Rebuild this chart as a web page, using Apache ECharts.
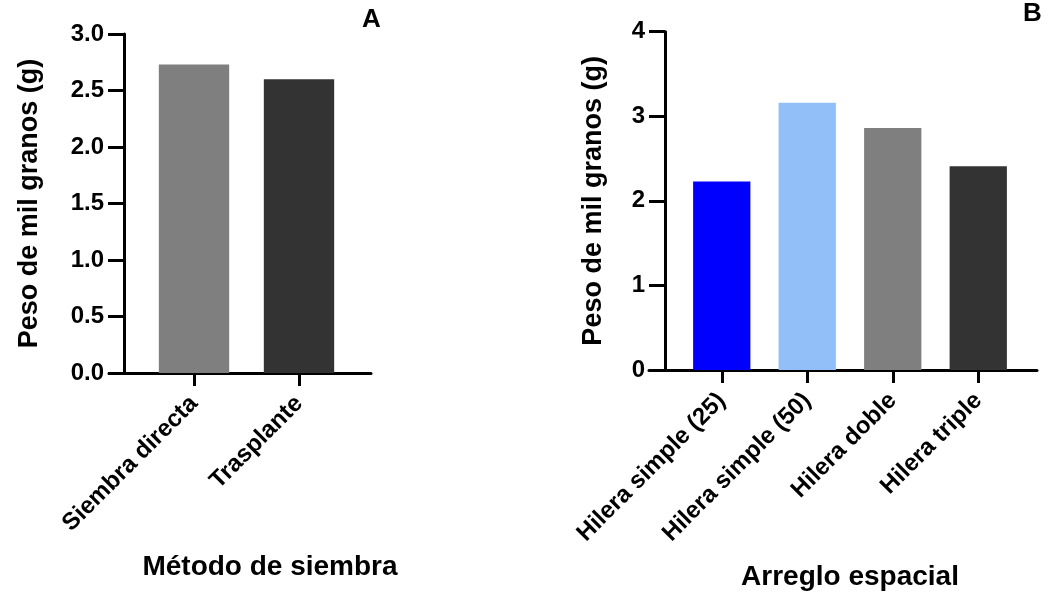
<!DOCTYPE html>
<html>
  <head>
    <meta charset="utf-8" />
    <title>Peso de mil granos</title>
    <style>
      html, body { margin: 0; padding: 0; background: #fff; }
      #chartBox { width: 1048px; height: 599px; }
    </style>
  </head>
  <body>
    <div id="chartBox"></div>
  </body>
  <script src="https://cdn.jsdelivr.net/npm/echarts@6/dist/echarts.min.js"></script>
  <script>
    // panel A
    var catsA = ['Siembra directa', 'Trasplante'];
    var valsA = [2.73, 2.60];
    var colorsA = ['#7f7f7f', '#333333'];
    // panel B
    var catsB = ['Hilera simple (25)', 'Hilera simple (50)', 'Hilera doble', 'Hilera triple'];
    var valsB = [2.23, 3.16, 2.86, 2.41];
    var colorsB = ['#0000ff', '#92bff8', '#7f7f7f', '#333333'];

    var _font = 'Liberation Sans, Arial, sans-serif';

    function barData(vals, colors) {
      return vals.map(function (v, i) {
        return { value: v, itemStyle: { color: colors[i] } };
      });
    }

    // plain black axis line spanning wider than the bars (Prism style)
    function lineAxes(gridIndex) {
      return {
        x: {
          type: 'value', gridIndex: gridIndex, min: 0, max: 1,
          axisLine: { show: true, onZero: false, lineStyle: { color: '#000', width: 3 } },
          axisTick: { show: false }, axisLabel: { show: false }, splitLine: { show: false }
        },
        y: { type: 'value', gridIndex: gridIndex, min: 0, max: 1, show: false }
      };
    }

    function catAxis(gridIndex, cats, nameText, nameGap, namePad) {
      return {
        type: 'category', gridIndex: gridIndex, data: cats,
        name: nameText, nameLocation: 'middle', nameGap: nameGap,
        nameTextStyle: { fontFamily: _font, fontWeight: 'bold', fontSize: 28, color: '#000', padding: namePad },
        axisLine: { show: false },
        axisTick: { show: true, alignWithLabel: true, length: 13, lineStyle: { color: '#000', width: 3 } },
        axisLabel: { rotate: 45, margin: 27, interval: 0, color: '#000', fontFamily: _font, fontWeight: 'bold', fontSize: 24 }
      };
    }

    function valAxis(gridIndex, max, interval, offset, nameGap, digits) {
      return {
        type: 'value', gridIndex: gridIndex, min: 0, max: max, interval: interval, offset: offset,
        name: 'Peso de mil granos (g)', nameLocation: 'middle', nameGap: nameGap,
        nameTextStyle: { fontFamily: _font, fontWeight: 'bold', fontSize: 27, color: '#000' },
        axisLine: { show: true, lineStyle: { color: '#000', width: 3 } },
        axisTick: { show: true, length: 16, lineStyle: { color: '#000', width: 3 } },
        axisLabel: {
          margin: 20, color: '#000', fontFamily: _font, fontWeight: 'bold', fontSize: 24,
          formatter: function (v) { return v.toFixed(digits); }
        },
        splitLine: { show: false }
      };
    }

    var lA = lineAxes(1), lB = lineAxes(3);

    var option = {
      animation: false,
      title: [
        { text: 'A', left: 362, top: 7, padding: 0, textStyle: { fontFamily: _font, fontWeight: 'bold', fontSize: 26, color: '#000' } },
        { text: 'B', left: 1023, top: 1, padding: 0, textStyle: { fontFamily: _font, fontWeight: 'bold', fontSize: 26, color: '#000' } }
      ],
      grid: [
        { left: 141.5, width: 210, top: 34, height: 339 },
        { left: 109, width: 262, top: 34, height: 339 },
        { left: 679, width: 342, top: 31.7, height: 338.3 },
        { left: 649, width: 388, top: 31.7, height: 338.3 }
      ],
      xAxis: [
        catAxis(0, catsA, 'Método de siembra', 180, [0, 0, 0, 47]),
        lA.x,
        catAxis(2, catsB, 'Arreglo espacial', 193, 0),
        lB.x
      ],
      yAxis: [
        valAxis(0, 3, 0.5, 17.5, 81, 1),
        lA.y,
        valAxis(2, 4, 1, 14, 58, 0),
        lB.y
      ],
      series: [
        { type: 'bar', xAxisIndex: 0, yAxisIndex: 0, barWidth: '67%', data: barData(valsA, colorsA) },
        { type: 'bar', xAxisIndex: 2, yAxisIndex: 2, barWidth: '67%', data: barData(valsB, colorsB) }
      ]
    };

    var myChart = echarts.init(document.getElementById('chartBox'));
    myChart.setOption(option);
  </script>
</html>
